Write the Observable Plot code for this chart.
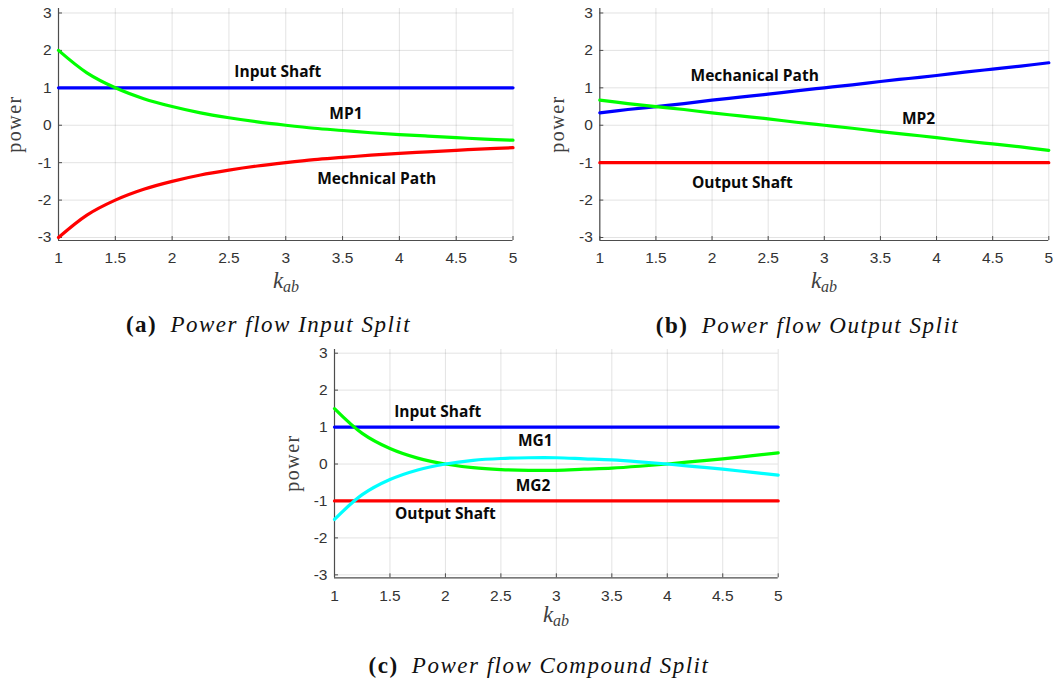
<!DOCTYPE html>
<html>
<head>
<meta charset="utf-8">
<script src="https://cdn.jsdelivr.net/npm/d3@7"></script>
<script src="https://cdn.jsdelivr.net/npm/@observablehq/plot@0.6"></script>
<style>
  html, body { margin: 0; padding: 0; background: #fff; }
  #fig { position: relative; width: 1056px; height: 682px; overflow: hidden; background: #fff; }
  #fig .panel { position: absolute; }
  #overlay { position: absolute; left: 0; top: 0; pointer-events: none; }
</style>
</head>
<body>
<div id="fig"></div>
<script>
// Gear ratio k_ab sampled along the horizontal axis
const kab = [1, 1.25, 1.5, 1.75, 2, 2.25, 2.5, 2.75, 3, 3.25, 3.5, 3.75, 4, 4.25, 4.5, 4.75, 5];
const kEnds = [1, 5];

// (a) Input split
const inputShaftA = [1, 1];
const mp1 = [2, 1.4, 1, 0.71, 0.5, 0.33, 0.2, 0.09, 0, -0.08, -0.14, -0.2, -0.25, -0.29, -0.33, -0.37, -0.4];
const mechPathA = [-3, -2.4, -2, -1.71, -1.5, -1.33, -1.2, -1.09, -1, -0.92, -0.86, -0.8, -0.75, -0.71, -0.67, -0.63, -0.6];

// (b) Output split
const mechPathB = [0.33, 0.42, 0.5, 0.58, 0.67, 0.75, 0.83, 0.92, 1, 1.08, 1.17, 1.25, 1.33, 1.42, 1.5, 1.58, 1.67];
const mp2 = [0.67, 0.58, 0.5, 0.42, 0.33, 0.25, 0.17, 0.08, 0, -0.08, -0.17, -0.25, -0.33, -0.42, -0.5, -0.58, -0.67];
const outputShaftB = [-1, -1];

// (c) Compound split
const inputShaftC = [1, 1];
const outputShaftC = [-1, -1];
const mg1 = [1.5, 0.83, 0.42, 0.16, 0, -0.1, -0.15, -0.17, -0.17, -0.14, -0.11, -0.06, 0, 0.07, 0.14, 0.22, 0.3];
const mg2 = [-1.5, -0.83, -0.42, -0.16, 0, 0.1, 0.15, 0.17, 0.17, 0.14, 0.11, 0.06, 0, -0.07, -0.14, -0.22, -0.3];

// Tick values and their labels
const xTicks = [1, 1.5, 2, 2.5, 3, 3.5, 4, 4.5, 5];
const xTickLabels = ["1", "1.5", "2", "2.5", "3", "3.5", "4", "4.5", "5"];
const yTicks = [-3, -2, -1, 0, 1, 2, 3];
const yTickLabels = ["-3", "-2", "-1", "0", "1", "2", "3"];

// In-plot annotations (text placed in data coordinates)
const labelsA = [
  {text: "Input Shaft", k: 2.93, v: 1.42},
  {text: "MP1", k: 3.53, v: 0.31},
  {text: "Mechnical Path", k: 3.8, v: -1.45}
];
const labelsB = [
  {text: "Mechanical Path", k: 2.38, v: 1.32},
  {text: "MP2", k: 3.84, v: 0.165},
  {text: "Output Shaft", k: 2.27, v: -1.555}
];
const labelsC = [
  {text: "Input Shaft", k: 1.93, v: 1.4},
  {text: "MG1", k: 2.81, v: 0.61},
  {text: "MG2", k: 2.79, v: -0.6},
  {text: "Output Shaft", k: 2.0, v: -1.35}
];

const captions = [
  {tag: "(a)", text: "Power flow Input Split"},
  {tag: "(b)", text: "Power flow Output Split"},
  {tag: "(c)", text: "Power flow Compound Split"}
];

const BLUE = "#0000ff", GREEN = "#00ff00", RED = "#ff0000", CYAN = "#00ffff";
const AXIS = "#4d4d4d";
const TICK_FONT = '"Liberation Sans", Arial, Helvetica, sans-serif';

function panel({left, top, width, height, mL, mR, mT, mB, yDomain, series, labels}) {
  const plotW = width - mL - mR;
  const plotH = height - mT - mB;
  const chart = Plot.plot({
    width, height,
    marginLeft: mL, marginRight: mR, marginTop: mT, marginBottom: mB,
    style: {background: "transparent", overflow: "visible"},
    x: {domain: [1, 5], axis: null},
    y: {domain: yDomain, axis: null},
    marks: [
      Plot.gridX(xTicks, {stroke: "#262626", strokeOpacity: 0.13}),
      Plot.gridY(yTicks, {stroke: "#262626", strokeOpacity: 0.13}),
      // tick labels
      Plot.text(xTicks, {
        x: d => d, text: (d, i) => xTickLabels[i], frameAnchor: "bottom", lineAnchor: "middle", dy: 18,
        fontFamily: TICK_FONT, fontSize: 15.5, fill: "#333"
      }),
      Plot.text(yTicks, {
        y: d => d, text: (d, i) => yTickLabels[i], frameAnchor: "left", textAnchor: "end", dx: -7,
        fontFamily: TICK_FONT, fontSize: 15.5, fill: "#333"
      }),
      // inward tick marks
      Plot.ruleX(xTicks, {insetTop: plotH - 4, stroke: AXIS}),
      Plot.ruleY(yTicks, {insetRight: plotW - 4, stroke: AXIS}),
      // left and bottom axis lines
      Plot.ruleX([1], {stroke: AXIS, strokeWidth: 1.2}),
      Plot.ruleY([yDomain[0]], {stroke: AXIS, strokeWidth: 1.2}),
      ...series.map(s => Plot.line(s.x, {x: s.x, y: s.y, stroke: s.color, strokeWidth: 3.2, curve: "catmull-rom"})),
      Plot.text(labels, {
        x: "k", y: "v", text: "text",
        fontFamily: '"Open Sans", "Noto Sans", sans-serif',
        fontWeight: 700, fontSize: 15.5, fill: "#0a0a0a"
      })
    ]
  });
  chart.classList.add("panel");
  chart.style.left = left + "px";
  chart.style.top = top + "px";
  document.getElementById("fig").appendChild(chart);
  return chart;
}

panel({
  left: 0, top: 0, width: 520, height: 280, mL: 58, mR: 7.5, mT: 8, mB: 40,
  yDomain: [-3.08, 3.12],
  series: [
    {x: kEnds, y: inputShaftA, color: BLUE},
    {x: kab, y: mechPathA, color: RED},
    {x: kab, y: mp1, color: GREEN}
  ],
  labels: labelsA
});

panel({
  left: 530, top: 0, width: 526, height: 280, mL: 69.3, mR: 7.7, mT: 8, mB: 40,
  yDomain: [-3.08, 3.12],
  series: [
    {x: kEnds, y: outputShaftB, color: RED},
    {x: kab, y: mechPathB, color: BLUE},
    {x: kab, y: mp2, color: GREEN}
  ],
  labels: labelsB
});

panel({
  left: 280, top: 340, width: 520, height: 280, mL: 54, mR: 22.3, mT: 9, mB: 42.7,
  yDomain: [-3.08, 3.1],
  series: [
    {x: kEnds, y: inputShaftC, color: BLUE},
    {x: kEnds, y: outputShaftC, color: RED},
    {x: kab, y: mg1, color: GREEN},
    {x: kab, y: mg2, color: CYAN}
  ],
  labels: labelsC
});

// Axis titles and sub-figure captions
const overlay = d3.select("#fig").append("svg")
  .attr("id", "overlay").attr("width", 1056).attr("height", 682);

const axisTitles = [
  {yx: 21, yy: 124, xx: 286, xy: 288},
  {yx: 563.5, yy: 124, xx: 824, xy: 288},
  {yx: 298.5, yy: 463, xx: 556, xy: 621.5}
];
axisTitles.forEach(a => {
  overlay.append("text")
    .attr("transform", `translate(${a.yx},${a.yy}) rotate(-90)`)
    .attr("text-anchor", "middle")
    .attr("font-family", '"Liberation Serif", "Times New Roman", serif')
    .attr("font-size", 20).attr("letter-spacing", 1.5)
    .attr("fill", "#404040")
    .text("power");
  const t = overlay.append("text")
    .attr("x", a.xx).attr("y", a.xy)
    .attr("text-anchor", "middle")
    .attr("font-family", '"Liberation Serif", "Times New Roman", serif')
    .attr("font-style", "italic")
    .attr("fill", "#404040");
  t.append("tspan").attr("font-size", 23).text("k");
  t.append("tspan").attr("font-size", 16).attr("dy", 4).text("ab");
});

const capPos = [
  {x: 268.5, y: 332},
  {x: 807.5, y: 333},
  {x: 539, y: 673}
];
captions.forEach((c, i) => {
  const t = overlay.append("text")
    .attr("x", capPos[i].x).attr("y", capPos[i].y)
    .attr("text-anchor", "middle")
    .attr("font-family", '"Liberation Serif", "Times New Roman", serif')
    .attr("font-size", 23).attr("letter-spacing", 1.5)
    .attr("fill", "#111");
  t.append("tspan").attr("font-weight", 700).text(c.tag);
  t.append("tspan").attr("dx", 6).attr("font-style", "italic").text(" " + c.text);
});
</script>
</body>
</html>
